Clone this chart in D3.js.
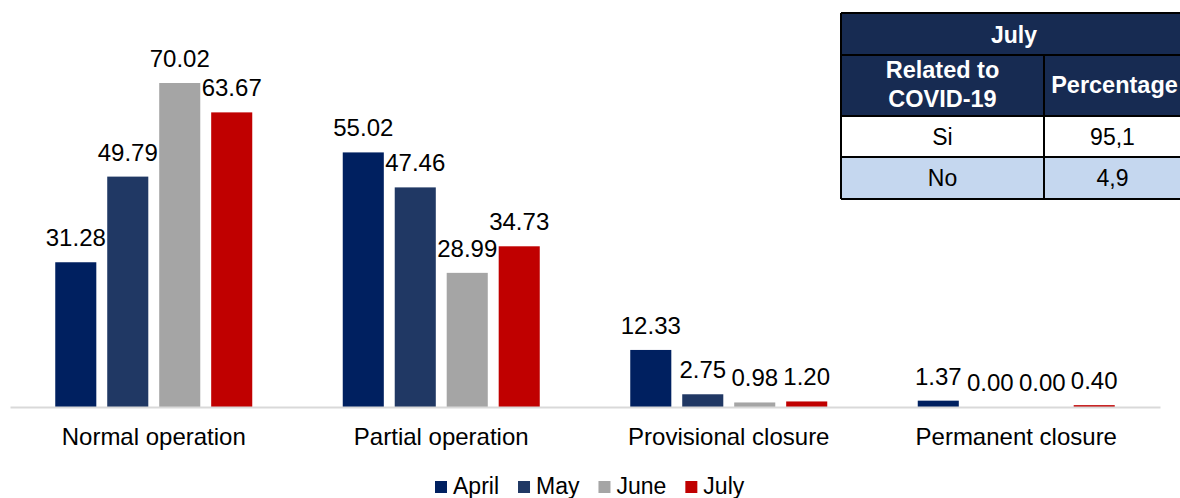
<!DOCTYPE html>
<html>
<head>
<meta charset="utf-8">
<script src="https://cdn.jsdelivr.net/npm/d3@7"></script>
<style>
  html, body { margin: 0; padding: 0; background: #fff; }
  svg { display: block; font-family: "Liberation Sans", Arial, sans-serif; }
</style>
</head>
<body>
<svg id="chart" width="1180" height="498"></svg>
<script>
const categories = ["Normal operation", "Partial operation", "Provisional closure", "Permanent closure"];
const seriesNames = ["April", "May", "June", "July"];
const april = [31.28, 55.02, 12.33, 1.37];
const may   = [49.79, 47.46, 2.75, 0.00];
const june  = [70.02, 28.99, 0.98, 0.00];
const july  = [63.67, 34.73, 1.20, 0.40];
const seriesColors = ["#002060", "#203864", "#A5A5A5", "#C00000"];

const tableTitle = "July";
const tableHeaders = [["Related to", "COVID-19"], ["Percentage"]];
const tableRows = [["Si", "95,1"], ["No", "4,9"]];

const seriesValues = [april, may, june, july];
const data = categories.map((c, i) => ({
  category: c,
  values: seriesNames.map((s, j) => ({ series: s, value: seriesValues[j][i], idx: j }))
}));

const svg = d3.select("#chart");

const x0 = d3.scaleBand().domain(categories).range([10, 1160]).paddingInner(0).paddingOuter(0);
const groupWidth = 197;
const x1 = d3.scaleBand().domain(seriesNames).range([0, groupWidth]).paddingInner(0.21).paddingOuter(0);
const y = d3.scaleLinear().domain([0, 70.02]).range([407, 83]);
const color = d3.scaleOrdinal().domain(seriesNames).range(seriesColors);

const groups = svg.append("g").selectAll("g").data(data).join("g")
  .attr("transform", d => `translate(${x0(d.category) + (x0.bandwidth() - groupWidth) / 2},0)`);

groups.selectAll("rect").data(d => d.values).join("rect")
  .attr("x", d => x1(d.series))
  .attr("y", d => y(d.value))
  .attr("width", x1.bandwidth())
  .attr("height", d => y(0) - y(d.value))
  .attr("fill", d => color(d.series));

groups.selectAll("text").data(d => d.values).join("text")
  .attr("x", d => x1(d.series) + x1.bandwidth() / 2)
  .attr("y", d => y(d.value) - 16)
  .attr("text-anchor", "middle")
  .attr("font-size", 24)
  .attr("fill", "#000")
  .text(d => d.value.toFixed(2));

// baseline axis
const xAxis = d3.axisBottom(x0).tickSize(0).tickPadding(0);
const ax = svg.append("g").attr("transform", `translate(0,${y(0)})`).call(xAxis);
ax.select(".domain").attr("stroke", "#d9d9d9").attr("stroke-width", 2);
ax.selectAll(".tick text")
  .attr("font-size", 24)
  .attr("font-family", "Liberation Sans, Arial, sans-serif")
  .attr("fill", "#000")
  .attr("dy", 0)
  .attr("y", 38);

// legend
const legend = svg.append("g");
let lx = 0;
seriesNames.forEach((s, i) => {
  const g = legend.append("g");
  g.append("rect").attr("x", 0).attr("y", -13).attr("width", 12).attr("height", 12).attr("fill", seriesColors[i]);
  const t = g.append("text").attr("x", 18).attr("y", 0).attr("font-size", 23).attr("fill", "#000").text(s);
  const w = 18 + t.node().getComputedTextLength();
  g.attr("transform", `translate(${lx},0)`);
  lx += w + 19;
});
legend.attr("transform", `translate(435,494)`);

// table
const tx = 841, tRight = 1181, colX = 1044;
const rowsY = [13, 55, 116, 157, 199];
const tbl = svg.append("g");
tbl.append("rect").attr("x", tx).attr("y", rowsY[0]).attr("width", tRight - tx).attr("height", rowsY[2] - rowsY[0]).attr("fill", "#172b52");
tbl.append("rect").attr("x", tx).attr("y", rowsY[2]).attr("width", tRight - tx).attr("height", rowsY[3] - rowsY[2]).attr("fill", "#ffffff");
tbl.append("rect").attr("x", tx).attr("y", rowsY[3]).attr("width", tRight - tx).attr("height", rowsY[4] - rowsY[3]).attr("fill", "#c5d7ef");

const c1 = (tx + colX) / 2, c2 = (colX + tRight) / 2;
tbl.append("text").attr("x", (tx + tRight) / 2 + 3).attr("y", rowsY[0] + 30).attr("text-anchor", "middle")
  .attr("font-size", 23).attr("font-weight", "bold").attr("fill", "#fff").text(tableTitle);
tableHeaders[0].forEach((l, i) => {
  tbl.append("text").attr("x", c1).attr("y", rowsY[1] + 23 + i * 29).attr("text-anchor", "middle")
    .attr("font-size", 23.5).attr("font-weight", "bold").attr("fill", "#fff").text(l);
});
tbl.append("text").attr("x", c2 + 2).attr("y", rowsY[1] + 38).attr("text-anchor", "middle")
  .attr("font-size", 23.5).attr("font-weight", "bold").attr("fill", "#fff").text(tableHeaders[1][0]);
tableRows.forEach((r, i) => {
  const yy = rowsY[2 + i] + 29;
  tbl.append("text").attr("x", c1).attr("y", yy).attr("text-anchor", "middle").attr("font-size", 23).attr("fill", "#000").text(r[0]);
  tbl.append("text").attr("x", c2).attr("y", yy).attr("text-anchor", "middle").attr("font-size", 23).attr("fill", "#000").text(r[1]);
});
// borders
const lineAttrs = sel => sel.attr("stroke", "#000").attr("stroke-width", 2);
rowsY.forEach(yy => lineAttrs(tbl.append("line").attr("x1", tx).attr("x2", tRight).attr("y1", yy).attr("y2", yy)));
lineAttrs(tbl.append("line").attr("x1", tx).attr("x2", tx).attr("y1", rowsY[0]).attr("y2", rowsY[4]));
lineAttrs(tbl.append("line").attr("x1", colX).attr("x2", colX).attr("y1", rowsY[1]).attr("y2", rowsY[4]));
</script>
</body>
</html>
